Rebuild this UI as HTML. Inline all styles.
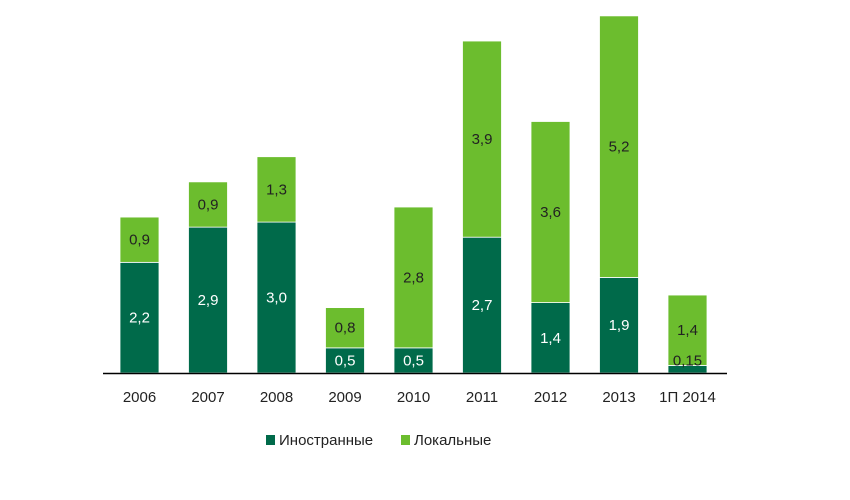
<!DOCTYPE html>
<html><head><meta charset="utf-8"><style>
body{margin:0;background:#fff;}
svg{display:block;font-family:"Liberation Sans",sans-serif;}
</style></head><body>
<svg id="chart" width="850" height="500">
<g id="bars"></g>
<line x1="103" x2="727" y1="373.5" y2="373.5" stroke="#000" stroke-width="1.5"/>
<g id="xlabels"></g>
<g>
<g><rect x="266" y="435" width="9" height="10" fill="#006a4a"/><text x="279" y="445" font-size="15" fill="#222">Иностранные</text></g>
<g><rect x="401" y="435" width="9" height="10" fill="#6cbd2e"/><text x="414" y="445" font-size="15" fill="#222">Локальные</text></g>
</g>
</svg>
<script>
const categories=["2006","2007","2008","2009","2010","2011","2012","2013","1П 2014"];
const foreign=[2.2,2.9,3.0,0.5,0.5,2.7,1.4,1.9,0.15];
const local=[0.9,0.9,1.3,0.8,2.8,3.9,3.6,5.2,1.4];
const foreignLabels=["2,2","2,9","3,0","0,5","0,5","2,7","1,4","1,9","0,15"];
const localLabels=["0,9","0,9","1,3","0,8","2,8","3,9","3,6","5,2","1,4"];
const NS="http://www.w3.org/2000/svg";
const base=373, scale=50.3, x0=139.5, step=68.5, bw=39;
const xPos=i=>x0+i*step;
const yPos=v=>base-v*scale;
const g=document.getElementById('bars'), xl=document.getElementById('xlabels');
function mk(t,a){const e=document.createElementNS(NS,t);for(const k in a)e.setAttribute(k,a[k]);return e;}
categories.forEach((c,i)=>{
  const cx=xPos(i);
  const fTop=yPos(foreign[i]), lTop=yPos(foreign[i]+local[i]);
  const r1=mk('rect',{x:cx-bw/2,y:fTop,width:bw,height:base-fTop,fill:'#006a4a',stroke:'#fff','stroke-width':0.8});
  
  
  g.appendChild(r1);
  const r2=mk('rect',{x:cx-bw/2,y:lTop,width:bw,height:fTop-lTop,fill:'#6cbd2e',stroke:'#fff','stroke-width':0.8});
  
  
  g.appendChild(r2);
  const small=base-fTop<20;
  const t1=mk('text',{x:cx,y:small?fTop:(fTop+base)/2+5,'text-anchor':'middle','font-size':15,fill:small?'#222':'#fff'});
  t1.textContent=foreignLabels[i];
  
  
  g.appendChild(t1);
  const t2=mk('text',{x:cx,y:(lTop+fTop)/2+5,'text-anchor':'middle','font-size':15,fill:'#222'});
  t2.textContent=localLabels[i];
  
  
  g.appendChild(t2);
  const t3=mk('text',{x:cx,y:402,'text-anchor':'middle','font-size':15,fill:'#222'});
  t3.textContent=c;
  
  
  xl.appendChild(t3);
});
</script>
</body></html>
